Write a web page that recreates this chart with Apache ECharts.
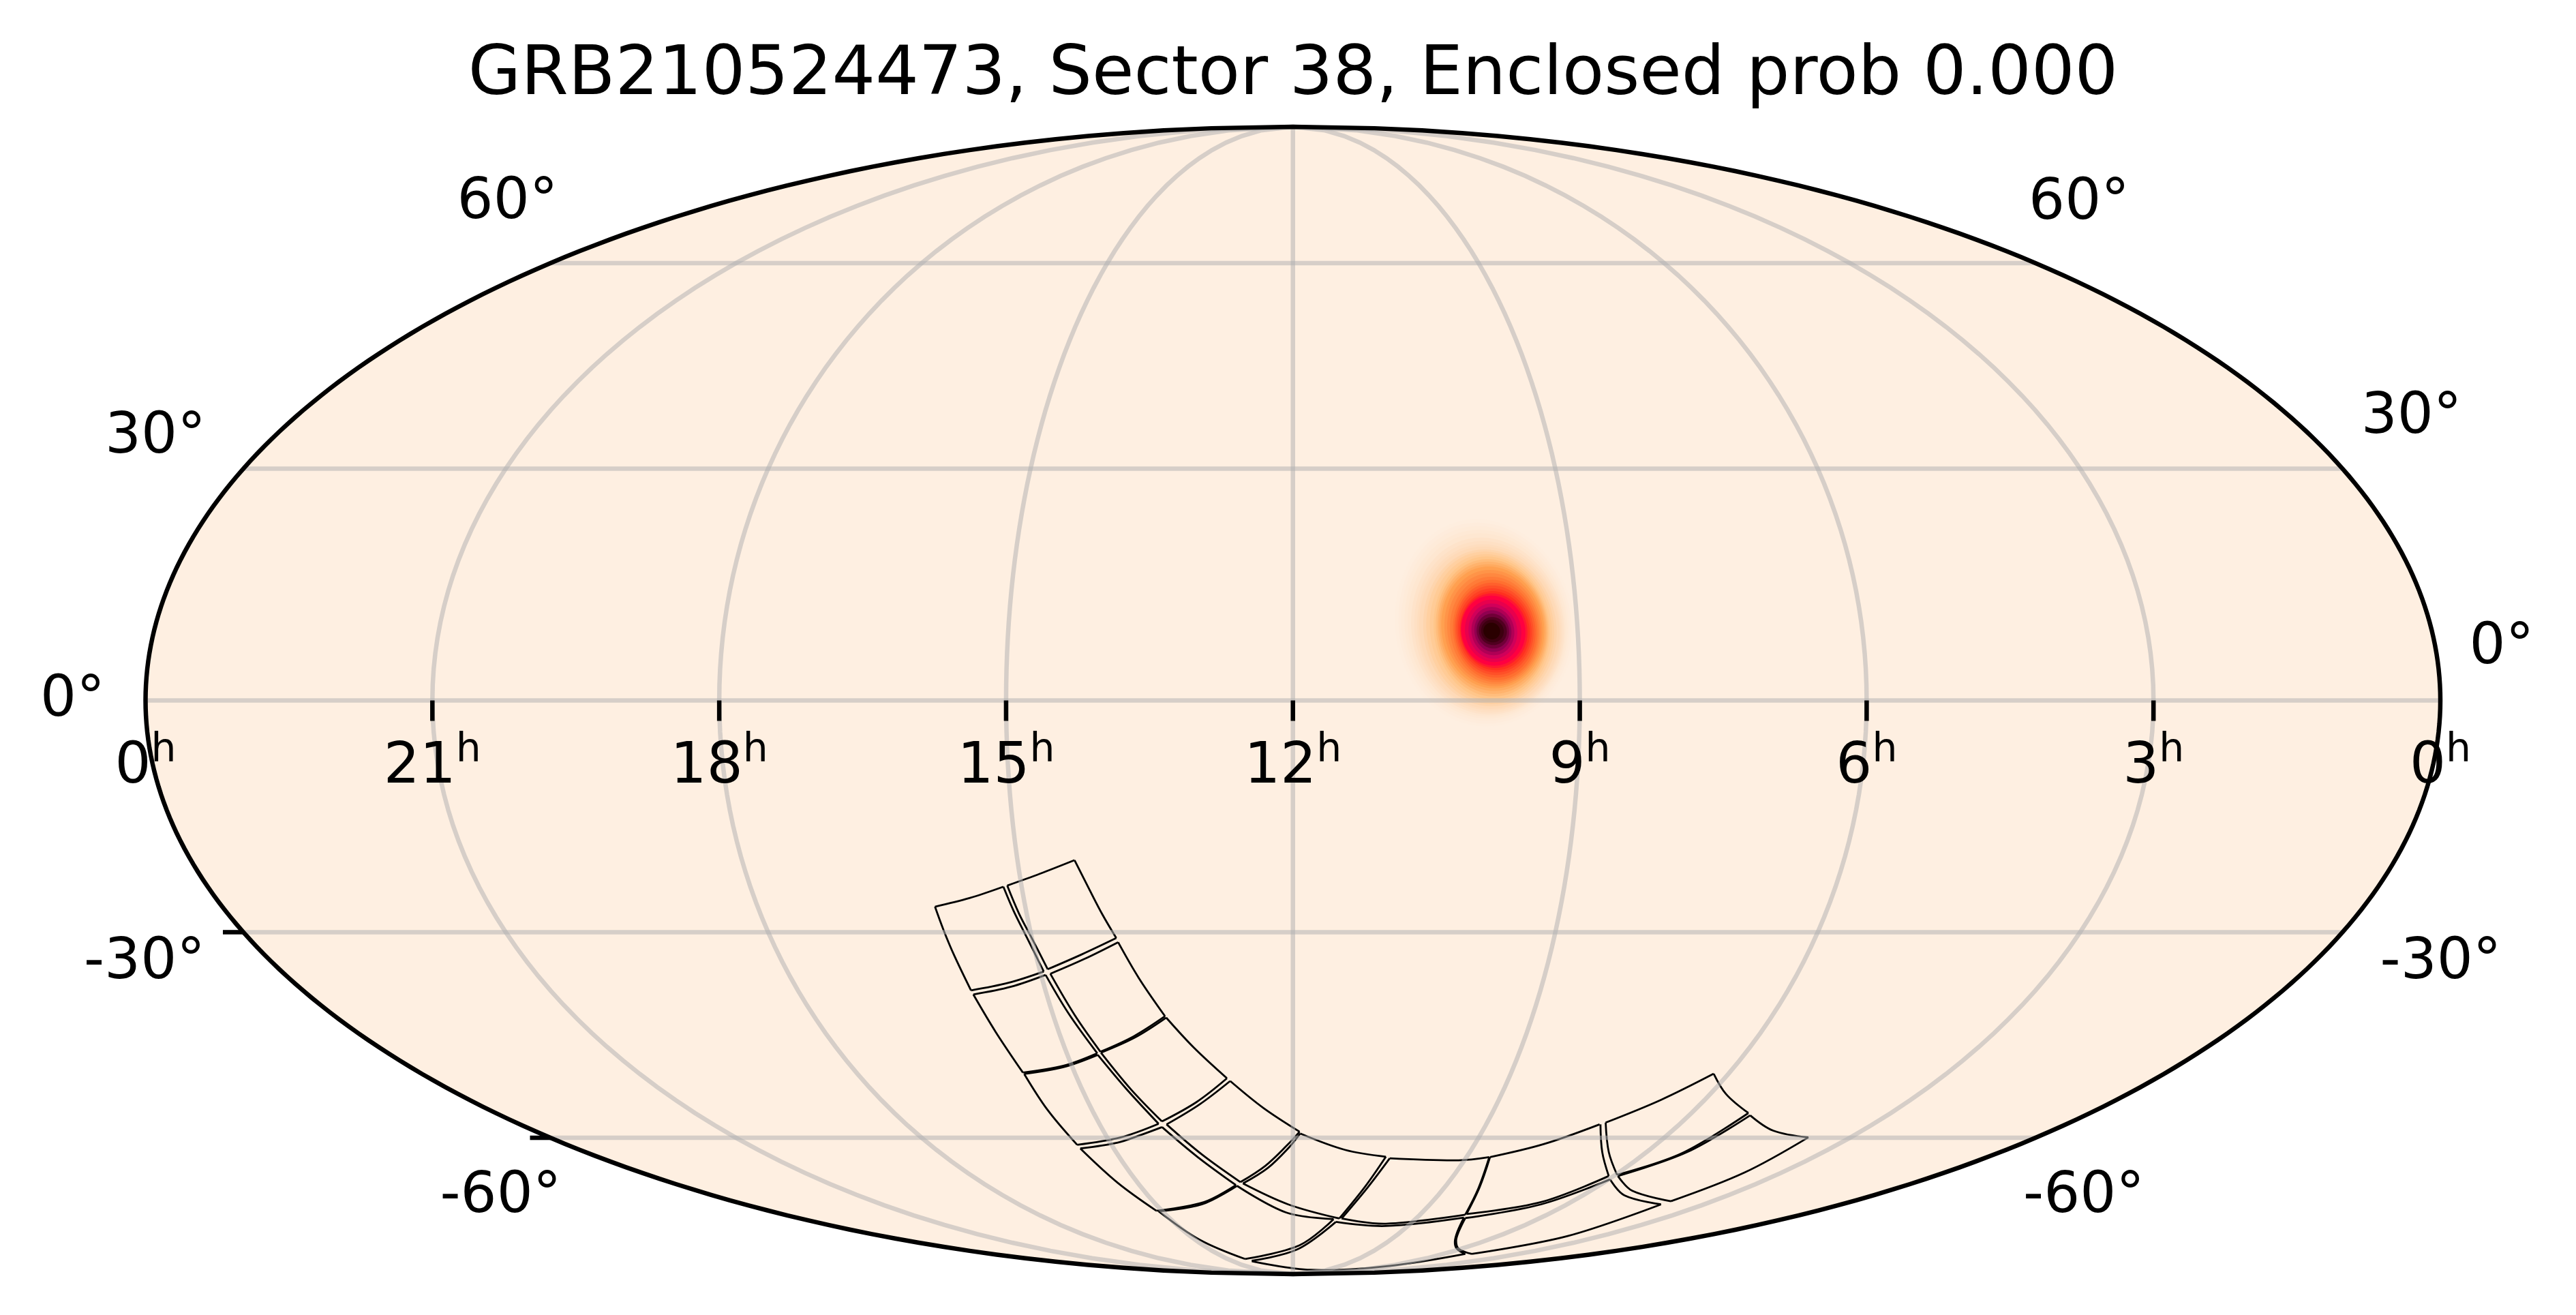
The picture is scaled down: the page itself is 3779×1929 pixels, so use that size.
<!DOCTYPE html>
<html><head><meta charset="utf-8"><style>html,body{margin:0;padding:0;background:#fff}#chart{width:3779px;height:1929px}</style>
<script src="https://cdn.jsdelivr.net/npm/echarts@6/dist/echarts.min.js"></script></head><body><div id="chart"></div>
<script>
// ---------- text ----------
const chartTitle = 'GRB210524473, Sector 38, Enclosed prob 0.000';
const raTickHours = [24, 21, 18, 15, 12, 9, 6, 3, 0];
const raTickLabels = ['0', '21', '18', '15', '12', '9', '6', '3', '0'];
const decTickDegrees = [60, 30, 0, -30, -60];
const decTickLabels = ['60°', '30°', '0°', '-30°', '-60°'];
const decTicksDrawn = [-30, -60];
const graticuleRa = [21, 18, 15, 12, 9, 6, 3];
const graticuleDec = [60, 30, 0, -30, -60];

// ---------- probability blob: elliptical iso-probability rings in sky coordinates ----------
const blobCentreRa = 9.91;   // hours
const blobCentreDec = 8.9;   // degrees
const ringLevel =     [0.006, 0.012, 0.02, 0.03, 0.04, 0.055, 0.07, 0.085, 0.1, 0.125, 0.15, 0.175, 0.2, 0.225, 0.25, 0.275, 0.3, 0.325, 0.35, 0.375, 0.4, 0.425, 0.45, 0.475, 0.5, 0.55, 0.6, 0.65, 0.7, 0.75, 0.8, 0.85, 0.9, 0.95, 1];
const ringLonShift =  [-1.0, -0.95, -0.9, -0.8, -0.7, -0.55, -0.45, -0.35, -0.3, -0.2, -0.15, -0.05, 0.07, 0.13, 0.18, 0.22, 0.25, 0.35, 0.43, 0.52, 0.61, 0.6, 0.57, 0.55, 0.54, 0.43, 0.32, 0.29, 0.25, 0.25, 0.25, 0.25, 0.25, 0.18, 0.07];
const ringDecShift =  [1.1, 1.05, 1.0, 0.9, 0.8, 0.65, 0.55, 0.47, 0.43, 0.4, 0.4, 0.39, 0.38, 0.39, 0.40, 0.41, 0.43, 0.35, 0.26, 0.17, 0.09, 0.07, 0.06, 0.03, 0, 0, 0, -0.03, -0.06, -0.06, -0.06, -0.06, -0.06, -0.06, -0.06];
const ringLonRadius = [14.2, 13.7, 13.3, 12.9, 12.5, 12.1, 11.7, 11.35, 11.07, 10.55, 10.11, 9.65, 9.18, 8.9, 8.64, 8.4, 8.14, 7.75, 7.39, 7.03, 6.68, 6.4, 6.11, 5.83, 5.54, 5.29, 5.07, 4.46, 3.86, 3.39, 2.93, 2.57, 2.21, 1.79, 1.32];
const ringDecRadius = [13.3, 12.9, 12.5, 12.1, 11.75, 11.35, 11.0, 10.65, 10.4, 10.05, 9.77, 9.45, 9.16, 8.8, 8.47, 8.12, 7.8, 7.45, 7.11, 6.75, 6.42, 6.07, 5.72, 5.38, 5.06, 4.77, 4.48, 3.99, 3.53, 3.09, 2.66, 2.23, 1.79, 1.45, 1.07];
const probabilityColours = ['#FEEFE1', '#FEDAB8', '#FFC68A', '#FFA050', '#FF7030', '#FF3020', '#FF0040', '#D0005A', '#900050', '#500020', '#2A0000'];

// ---------- detector footprints: [RA hours, Dec degrees] along each CCD edge ----------
const ccd01 = [[[16.012,-26.60],[15.604,-25.46],[15.202,-23.96]], [[15.202,-23.96],[15.139,-27.21],[15.056,-30.70],[14.957,-35.34]], [[14.957,-35.34],[15.417,-36.90],[15.902,-37.95]], [[15.902,-37.95],[15.956,-33.01],[15.988,-29.63],[16.012,-26.60]]];
const ccd02 = [[[15.157,-23.81],[14.777,-22.26],[14.378,-20.48]], [[14.378,-20.48],[14.254,-24.35],[14.147,-27.66],[14.030,-30.79]], [[14.030,-30.79],[14.465,-33.01],[14.903,-35.03]], [[14.903,-35.03],[14.999,-30.86],[15.086,-27.51],[15.157,-23.81]]];
const ccd03 = [[[15.893,-38.52],[15.401,-37.44],[14.946,-35.81]], [[14.946,-35.81],[14.800,-41.20],[14.595,-46.93]], [[14.595,-46.93],[15.114,-48.78],[15.711,-49.79]], [[15.711,-49.79],[15.810,-43.79],[15.893,-38.52]]];
const ccd04 = [[[14.886,-35.65],[14.445,-33.63],[14.016,-31.35]], [[14.016,-31.35],[13.840,-36.28],[13.602,-41.58]], [[13.602,-41.58],[14.053,-44.45],[14.547,-46.70]], [[14.547,-46.70],[14.727,-41.52],[14.886,-35.65]]];
const ccd05 = [[[15.703,-50.00],[15.122,-48.98],[14.596,-47.16]], [[14.596,-47.16],[14.371,-52.20],[14.082,-57.72]], [[14.082,-57.72],[14.779,-59.93],[15.569,-61.17]], [[15.569,-61.17],[15.664,-55.55],[15.703,-50.00]]];
const ccd06 = [[[14.544,-46.83],[14.040,-44.61],[13.591,-41.78]], [[13.591,-41.78],[13.302,-46.10],[12.917,-50.65]], [[12.917,-50.65],[13.414,-54.30],[14.017,-57.35]], [[14.017,-57.35],[14.303,-52.37],[14.544,-46.83]]];
const ccd07 = [[[15.561,-61.78],[14.876,-60.79],[14.444,-59.56],[14.048,-58.26]], [[14.048,-58.26],[13.651,-63.17],[13.115,-68.18]], [[13.115,-68.18],[13.916,-71.38],[15.127,-73.08]], [[15.127,-73.08],[15.386,-67.77],[15.561,-61.78]]];
const ccd08 = [[[13.962,-57.82],[13.376,-54.66],[12.877,-51.06]], [[12.877,-51.06],[12.442,-55.19],[11.895,-59.00]], [[11.895,-59.00],[12.098,-61.25],[12.492,-64.73],[13.011,-67.64]], [[13.011,-67.64],[13.559,-62.78],[13.962,-57.82]]];
const ccd09 = [[[15.086,-73.17],[13.995,-71.82],[13.097,-68.31]], [[13.097,-68.31],[12.163,-73.40],[11.004,-74.79]], [[11.004,-74.79],[11.780,-80.61],[14.196,-84.19]], [[14.196,-84.19],[14.861,-79.26],[15.086,-73.17]]];
const ccd10 = [[[12.969,-67.89],[12.455,-65.13],[12.061,-61.55],[11.884,-59.30]], [[11.884,-59.30],[11.124,-62.01],[10.396,-63.17]], [[10.396,-63.17],[10.575,-68.39],[10.871,-74.65]], [[10.871,-74.65],[12.104,-71.82],[12.969,-67.89]]];
const ccd11 = [[[14.007,-84.72],[11.844,-81.63],[10.922,-75.35]], [[10.922,-75.35],[9.575,-76.22],[7.868,-74.46]], [[7.868,-74.46],[7.442,-77.46],[6.875,-79.79],[6.171,-81.46],[5.141,-82.81]], [[5.141,-82.81],[5.999,-86.29],[10.455,-87.76],[14.041,-84.86]]];
const ccd12 = [[[10.320,-63.44],[9.102,-63.79],[8.607,-63.24]], [[8.607,-63.24],[8.311,-68.81],[7.935,-73.86]], [[7.935,-73.86],[9.628,-75.74],[10.816,-74.65]], [[10.816,-74.65],[10.521,-68.60],[10.320,-63.44]]];
const ccd13 = [[[7.820,-74.55],[6.571,-71.82],[5.974,-67.15]], [[5.974,-67.15],[5.146,-70.08],[3.944,-71.82]], [[3.944,-71.82],[3.979,-78.47],[4.882,-82.81]], [[4.882,-82.81],[6.106,-81.46],[6.920,-79.52],[7.406,-77.46],[7.820,-74.55]]];
const ccd14 = [[[8.594,-63.24],[7.865,-61.06],[7.239,-57.82]], [[7.226,-57.82],[6.753,-62.39],[6.094,-66.54]], [[6.094,-66.54],[6.652,-71.38],[7.927,-73.72]], [[7.927,-73.72],[8.308,-68.60],[8.594,-63.24]]];
const ccd15 = [[[5.923,-66.54],[5.314,-62.39],[5.076,-56.37]], [[5.076,-56.37],[4.410,-58.82],[3.681,-59.93]], [[3.681,-59.93],[3.686,-65.93],[3.897,-71.21]], [[3.897,-71.21],[5.163,-69.23],[5.923,-66.54]]];
const ccd16 = [[[7.170,-57.53],[6.638,-53.95],[6.205,-49.96]], [[6.205,-49.96],[5.770,-53.07],[5.144,-56.01]], [[5.144,-56.01],[5.375,-62.59],[5.969,-66.34]], [[5.969,-66.34],[6.642,-62.39],[7.170,-57.53]]];

// ---------- layout and style ----------
const FONT = '"DejaVu Sans"';
const tickFont = 83.4, supFont = 58.4, titleFont = 100;
const sky = '#FEEFE1', gridLine = 'rgba(176,176,176,0.52)';
const decLabelOffset = {
  left:  {'60': [-63, -96], '30': [-129, -53], '0': [-107, -7], '-30': [-145, 38], '-60': [-73, 79]},
  right: {'60': [64, -95], '30': [101, -82], '0': [90, -84], '-30': [144, 38], '-60': [71, 79]}
};

// Mollweide projection of [RA hours, Dec degrees] to the plot plane (x in [-2,2], y in [-1,1])
function mollweide(ra, dec) {
  const lambda = (12 - ra) * Math.PI / 12, phi = dec * Math.PI / 180;
  if (Math.abs(dec) >= 90) return [0, Math.sign(dec)];
  let t = phi;
  for (let i = 0; i < 30; i++) {
    const d = (2 * t + Math.sin(2 * t) - Math.PI * Math.sin(phi)) / (2 + 2 * Math.cos(2 * t));
    t -= d;
    if (Math.abs(d) < 1e-9) break;
  }
  return [2 / Math.PI * lambda * Math.cos(t), Math.sin(t)];
}
const range = (a, b, s) => { const o = []; for (let v = a; s > 0 ? v <= b + 1e-9 : v >= b - 1e-9; v += s) o.push(v); return o; };
const meridian = ra => range(-90, 90, 2).map(d => mollweide(ra, d));
const boundary = range(-90, 90, 1).map(d => mollweide(24, d)).concat(range(90, -90, -1).map(d => mollweide(0, d)));

const ccds = [ccd01, ccd02, ccd03, ccd04, ccd05, ccd06, ccd07, ccd08, ccd09, ccd10, ccd11, ccd12, ccd13, ccd14, ccd15, ccd16];
const ccdEdges = ccds.flat();
const graticuleLines = graticuleDec.map(d => [mollweide(24, d), mollweide(0, d)]).concat(graticuleRa.map(meridian));

const customBase = {type: 'custom', coordinateSystem: 'cartesian2d', silent: true, clip: false, animation: false};
const toPx = (api, pts) => pts.map(p => api.coord(p));

const series = [
  {...customBase, name: 'sky', data: [[0, 0]], renderItem: (p, api) => ({
    type: 'polygon', shape: {points: toPx(api, boundary)}, style: {fill: sky, stroke: null}})},
  {...customBase, name: 'probability', data: ringLevel.map((v, i) => [v, i]), renderItem: (p, api) => {
    const i = api.value(1), pts = [];
    for (let k = 0; k < 72; k++) {
      const a = k / 72 * 2 * Math.PI;
      const lon = ringLonShift[i] + ringLonRadius[i] * Math.cos(a);
      const dec = blobCentreDec + ringDecShift[i] + ringDecRadius[i] * Math.sin(a);
      pts.push(mollweide(blobCentreRa - lon / 15, dec));
    }
    return {type: 'polygon', shape: {points: toPx(api, pts)}, style: {fill: api.visual('color'), stroke: null}};
  }},
  {...customBase, name: 'CCD footprints', data: ccdEdges.map((e, i) => [i, 0]), renderItem: (p, api) => ({
    type: 'polyline',
    shape: {points: toPx(api, ccdEdges[api.value(0)].map(q => mollweide(q[0], q[1]))), smooth: 0.35},
    style: {fill: null, stroke: '#000', lineWidth: 2.8, lineJoin: 'miter'}})},
  {...customBase, name: 'graticule', data: graticuleLines.map((e, i) => [i, 0]), renderItem: (p, api) => ({
    type: 'polyline', shape: {points: toPx(api, graticuleLines[api.value(0)])},
    style: {fill: null, stroke: gridLine, lineWidth: 6.5}})},
  {...customBase, name: 'ra ticks', data: graticuleRa.map((r, i) => [i, 0]), renderItem: (p, api) => {
    const c = api.coord(mollweide(graticuleRa[api.value(0)], 0));
    return {type: 'line', shape: {x1: c[0], y1: c[1], x2: c[0], y2: c[1] + 30}, style: {stroke: '#000', lineWidth: 6.5}};
  }},
  {...customBase, name: 'dec ticks', data: decTicksDrawn.map((r, i) => [i, 0]), renderItem: (p, api) => {
    const c = api.coord(mollweide(24, decTicksDrawn[api.value(0)]));
    return {type: 'line', shape: {x1: c[0] - 30, y1: c[1], x2: c[0], y2: c[1]}, style: {stroke: '#000', lineWidth: 6.5}};
  }},
  {...customBase, name: 'spine', data: [[0, 0]], renderItem: (p, api) => ({
    type: 'polygon', shape: {points: toPx(api, boundary)}, style: {fill: 'none', stroke: '#000', lineWidth: 6.5}})},
  {...customBase, name: 'ra labels', data: raTickHours.map((r, i) => [i, 0]), renderItem: (p, api) => {
    const i = api.value(0), c = api.coord(mollweide(raTickHours[i], 0));
    const w = raTickLabels[i].length * 0.636 * tickFont, total = w + 0.634 * supFont, x0 = c[0] - total / 2;
    return {type: 'group', children: [
      {type: 'text', style: {x: x0, y: c[1] + 99, text: raTickLabels[i], fill: '#000', font: tickFont + 'px ' + FONT, textAlign: 'left', textBaseline: 'middle', verticalAlign: 'middle'}},
      {type: 'text', style: {x: x0 + w, y: c[1] + 74, text: 'h', fill: '#000', font: supFont + 'px ' + FONT, textAlign: 'left', textBaseline: 'middle', verticalAlign: 'middle'}}
    ]};
  }},
  {...customBase, name: 'dec labels', data: decTickDegrees.map((r, i) => [i, 0]), renderItem: (p, api) => {
    const i = api.value(0), d = decTickDegrees[i];
    const L = api.coord(mollweide(24, d)), R = api.coord(mollweide(0, d));
    const ol = decLabelOffset.left[String(d)], or = decLabelOffset.right[String(d)];
    const mk = (c, o) => ({type: 'text', style: {x: c[0] + o[0], y: c[1] + o[1] + 8, text: decTickLabels[i], fill: '#000', font: tickFont + 'px ' + FONT, textAlign: 'center', textBaseline: 'middle', verticalAlign: 'middle'}});
    return {type: 'group', children: [mk(L, ol), mk(R, or)]};
  }}
];

const chart = echarts.init(document.getElementById('chart'), null, {renderer: 'canvas', width: 3779, height: 1929});
chart.setOption({
  animation: false,
  backgroundColor: '#fff',
  title: {text: chartTitle, left: 1892, top: 57, textAlign: 'center',
    textStyle: {fontFamily: FONT, fontWeight: 'normal', fontSize: titleFont, color: '#000'}},
  grid: {left: 213.5, right: 199, top: 186, bottom: 60, containLabel: false},
  xAxis: {type: 'value', min: -2, max: 2, show: false},
  yAxis: {type: 'value', min: -1, max: 1, show: false},
  visualMap: {show: false, type: 'continuous', min: 0, max: 1, dimension: 0, seriesIndex: 1, inRange: {color: probabilityColours}},
  tooltip: {show: false},
  series
});
</script></body></html>
